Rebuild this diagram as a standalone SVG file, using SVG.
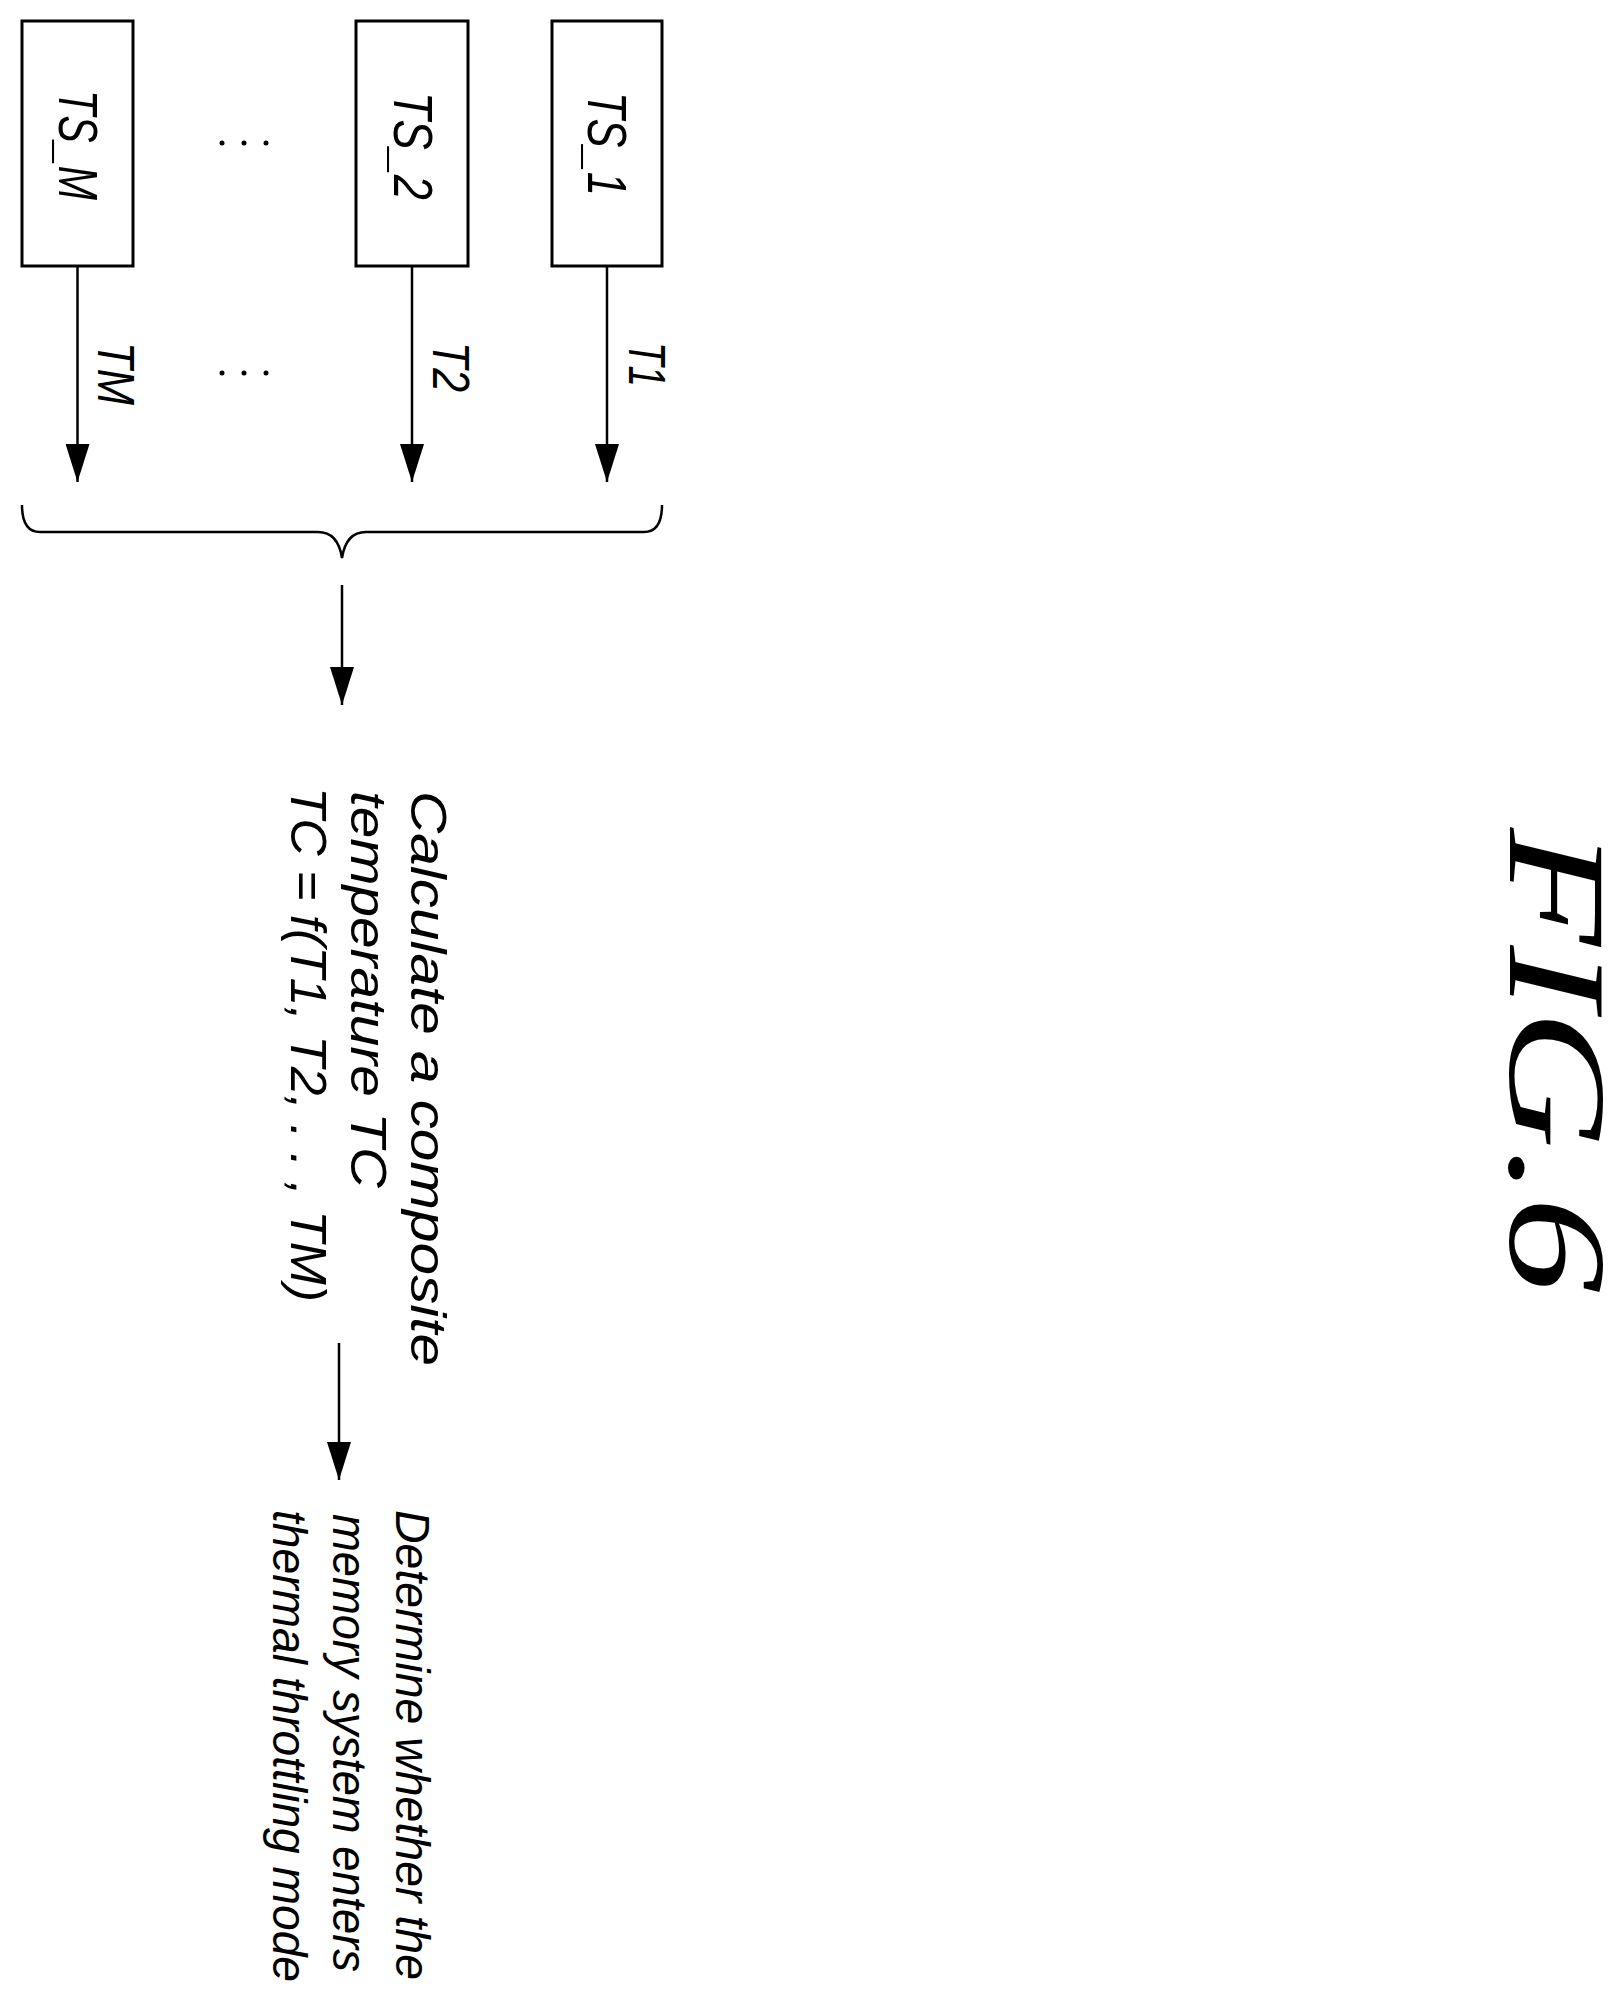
<svg xmlns="http://www.w3.org/2000/svg" width="1618" height="2012" viewBox="0 0 1618 2012">
<style>
.box{fill:#fff;stroke:#000;stroke-width:3}
.ln{fill:none;stroke:#000;stroke-width:2.5}
.t{font-family:'Liberation Sans',Arial,sans-serif;font-style:italic;fill:#000}
</style>
<defs>
<marker id="ah" viewBox="0 0 38 24" refX="38" refY="12" markerWidth="38" markerHeight="24" markerUnits="userSpaceOnUse" orient="auto"><path d="M0,0 L38,12 L0,24 Z" fill="#000"/></marker>
</defs>
<rect width="1618" height="2012" fill="#fff"/>
<g id="ts_m"><rect class="box" x="22" y="21" width="111" height="245"/><text class="t" font-size="56" transform="translate(59,90) rotate(90)" textLength="110" lengthAdjust="spacingAndGlyphs">TS_M</text></g>
<g id="ts_2"><rect class="box" x="356" y="21" width="112" height="245"/><text class="t" font-size="56" transform="translate(394,92) rotate(90)" textLength="108" lengthAdjust="spacingAndGlyphs">TS_2</text></g>
<g id="ts_1"><rect class="box" x="552" y="21" width="110" height="245"/><text class="t" font-size="56" transform="translate(588,92) rotate(90)" textLength="104" lengthAdjust="spacingAndGlyphs">TS_1</text></g>
<g id="dots" fill="#000"><circle cx="222" cy="143" r="2.5"/><circle cx="244" cy="143" r="2.5"/><circle cx="266" cy="143" r="2.5"/><circle cx="222" cy="373" r="2.5"/><circle cx="244" cy="373" r="2.5"/><circle cx="266" cy="373" r="2.5"/></g>
<g id="connectors">
<line class="ln" x1="77.5" y1="266" x2="77.5" y2="482" marker-end="url(#ah)"/>
<line class="ln" x1="412" y1="266" x2="412" y2="482" marker-end="url(#ah)"/>
<line class="ln" x1="607" y1="266" x2="607" y2="482" marker-end="url(#ah)"/>
<path class="ln" d="M22,505 Q22,532 40,532 L318,532 Q338,532 342,558 Q346,532 366,532 L644,532 Q662,532 662,505"/>
<line class="ln" x1="342" y1="585" x2="342" y2="705" marker-end="url(#ah)"/>
<line class="ln" x1="339" y1="1343" x2="339" y2="1480" marker-end="url(#ah)"/>
<text class="t" font-size="52" transform="translate(629,342) rotate(90)" textLength="45" lengthAdjust="spacingAndGlyphs">T1</text>
<text class="t" font-size="52" transform="translate(433,342) rotate(90)" textLength="50" lengthAdjust="spacingAndGlyphs">T2</text>
<text class="t" font-size="52" transform="translate(98,342) rotate(90)" textLength="63" lengthAdjust="spacingAndGlyphs">TM</text>
</g>
<g id="calc" class="t" font-size="50">
<text transform="translate(411,791) rotate(90)" textLength="575" lengthAdjust="spacingAndGlyphs">Calculate a composite</text>
<text transform="translate(351,791) rotate(90)" textLength="397" lengthAdjust="spacingAndGlyphs">temperature TC</text>
<text transform="translate(291,787) rotate(90)" textLength="515" lengthAdjust="spacingAndGlyphs">TC = f(T1, T2, . . , TM)</text>
</g>
<g id="determine" class="t" font-size="48">
<text transform="translate(396,1510) rotate(90)" textLength="470" lengthAdjust="spacingAndGlyphs">Determine whether the</text>
<text transform="translate(333,1514) rotate(90)" textLength="458" lengthAdjust="spacingAndGlyphs">memory system enters</text>
<text transform="translate(273,1510) rotate(90)" textLength="472" lengthAdjust="spacingAndGlyphs">thermal throttling mode</text>
</g>
<g id="title"><text font-family="'Liberation Serif','Times New Roman',serif" font-style="italic" font-size="140" transform="translate(1510,828) rotate(90)" textLength="465" lengthAdjust="spacingAndGlyphs">FIG.6</text></g>
</svg>
